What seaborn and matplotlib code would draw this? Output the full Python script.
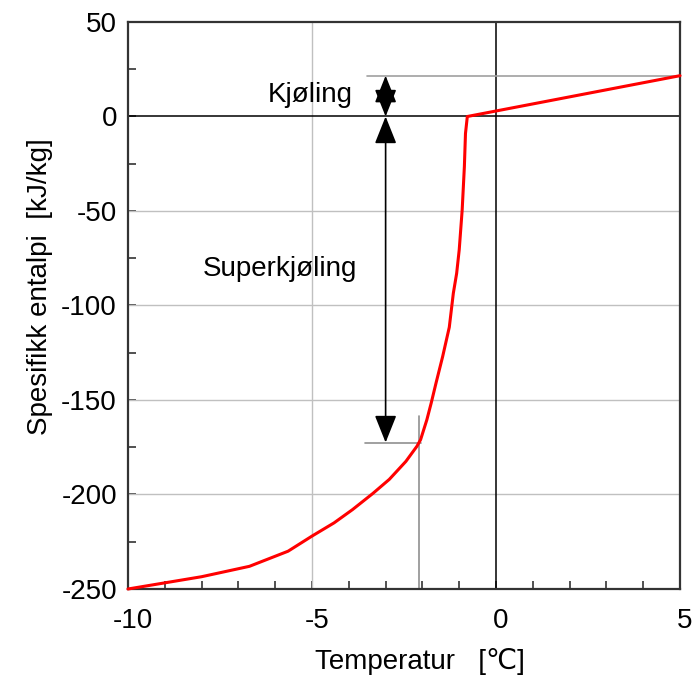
# 과냉각 곡선 - 비엔탈피 vs 온도 (seaborn 라인 + matplotlib 주석)

import numpy as np
import pandas as pd
import seaborn as sns
import matplotlib.pyplot as plt
import matplotlib.transforms as mtrans
from matplotlib.ticker import MultipleLocator

# 데이터
temp = [-10.0, -8.0, -6.7, -5.65, -5.0, -4.4, -3.9, -3.35, -2.9, -2.45, -2.15, -2.05,
        -1.88, -1.76, -1.63, -1.45, -1.27, -1.16, -1.07, -1.0, -0.92, -0.86, -0.83,
        -0.78, 5.0]
enthalpy = [-250, -243.5, -238, -230, -222, -215, -208, -199.5, -192, -182.5, -174.5, -171,
            -160.5, -151.5, -141, -127, -111.5, -93.5, -83, -70.5, -49.5, -26.5, -9,
            0, 21.6]

kjoling_top = 21.6      # 냉각 시작 엔탈피
super_bottom = -172.5   # 과냉각 끝 엔탈피
nucleation_t = -2.1     # 과냉각 온도
arrow_t = -3.0

df = pd.DataFrame({'Temperatur': temp, 'Entalpi': enthalpy})

sns.set_style('white')
plt.rcParams['font.family'] = ['Liberation Sans', 'DejaVu Sans']
plt.rcParams['axes.unicode_minus'] = False
plt.rcParams['text.color'] = 'black'
plt.rcParams['axes.labelcolor'] = 'black'
plt.rcParams['xtick.color'] = 'black'
plt.rcParams['ytick.color'] = 'black'

fig = plt.figure(figsize=(6.93, 6.81), dpi=100)
ax = fig.add_axes([0.1847, 0.1351, 0.7966, 0.8326])

# 격자선
grid_c = '#c0c0c0'
for yv in [-200, -150, -100, -50]:
    ax.axhline(yv, color=grid_c, lw=1, zorder=1)
ax.axvline(-5, color=grid_c, lw=1, zorder=1)
ax.axhline(0, color='black', lw=1.1, zorder=1)
ax.axvline(0, color='black', lw=1.1, zorder=1)

# 보조선
ax.plot([-3.5, 5], [kjoling_top, kjoling_top], color='#a0a0a0', lw=1.2, zorder=1)
ax.plot([-3.56, nucleation_t + 0.05], [super_bottom, super_bottom], color='#909090', lw=1.2, zorder=1)
ax.plot([nucleation_t, nucleation_t], [-158.5, -250], color='#909090', lw=1.2, zorder=1)

# 곡선
sns.lineplot(data=df, x='Temperatur', y='Entalpi', color='red', lw=2.2, sort=False,
             ax=ax, zorder=3, clip_on=False)

# 화살표
arrow_kw = dict(arrowstyle='<|-|>,head_length=0.85,head_width=0.34', color='black',
                lw=1.2, mutation_scale=20, shrinkA=0, shrinkB=0)
ax.annotate('', xy=(arrow_t, kjoling_top), xytext=(arrow_t, 0), arrowprops=arrow_kw)
ax.annotate('', xy=(arrow_t, 0), xytext=(arrow_t, super_bottom), arrowprops=arrow_kw)

ax.text(-3.88, 11.5, 'Kjøling', fontsize=20, ha='right', va='center')
ax.text(-3.78, -80.5, 'Superkjøling', fontsize=20, ha='right', va='center')

# 축 설정
ax.set_xlim(-10, 5)
ax.set_ylim(-250, 50)
ax.xaxis.set_major_locator(MultipleLocator(5))
ax.xaxis.set_minor_locator(MultipleLocator(1))
ax.yaxis.set_major_locator(MultipleLocator(50))
ax.yaxis.set_minor_locator(MultipleLocator(25))
ax.tick_params(which='both', direction='in', bottom=True, left=True, top=False, right=False,
               labelsize=20, length=6, width=1.2, color='#333333')
ax.tick_params(axis='x', which='major', pad=14)
ax.tick_params(axis='y', which='major', pad=8)
for s in ax.spines.values():
    s.set_color('#333333')
    s.set_linewidth(1.6)

# x 눈금 라벨 살짝 오른쪽으로
shift = mtrans.ScaledTranslation(5 / 100, 0, fig.dpi_scale_trans)
for lab in ax.get_xticklabels():
    lab.set_transform(lab.get_transform() + shift)

ax.set_xlabel('Temperatur   [℃]', fontsize=20, labelpad=10, x=0.528)
ax.set_ylabel('Spesifikk entalpi  [kJ/kg]', fontsize=20, labelpad=6, y=0.534)

fig.savefig('out.png', dpi=100)
